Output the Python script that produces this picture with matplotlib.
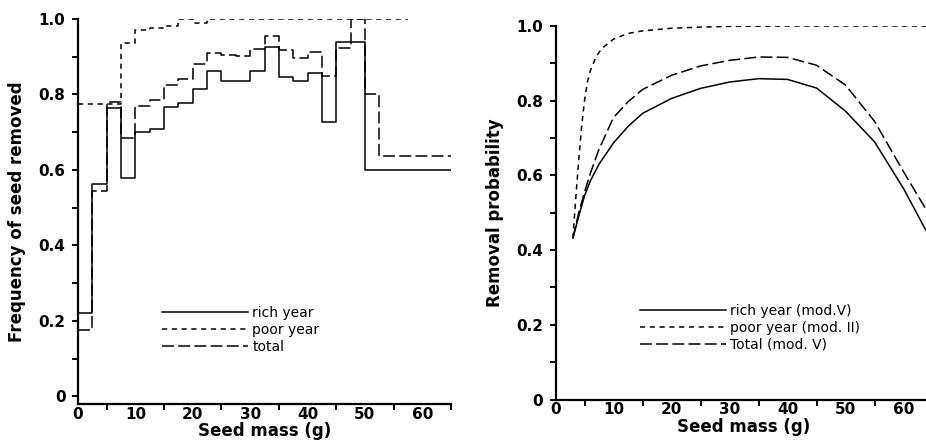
import numpy as np
import matplotlib
matplotlib.use("Agg")
import matplotlib.pyplot as plt
from matplotlib.ticker import FixedLocator, FuncFormatter

# left panel: observed removal frequency per 2.5 g mass class
rich_edges = [0, 2.5, 5, 7.5, 10, 12.5, 15, 17.5, 20, 22.5, 25, 27.5, 30,
              32.5, 35, 37.5, 40, 42.5, 45, 47.5, 50, 65]
rich_freq = [0.222, 0.562, 0.765, 0.578, 0.700, 0.709, 0.766, 0.777, 0.814,
             0.861, 0.836, 0.837, 0.863, 0.925, 0.846, 0.836, 0.858, 0.728,
             0.938, 0.938, 0.601]

poor_edges = [0, 7.5, 10, 12.5, 15, 17.5, 20, 22.5, 57.5]
poor_freq = [0.774, 0.936, 0.970, 0.977, 0.981, 1.0, 0.990, 1.0]

total_edges = [0, 2.5, 5, 7.5, 10, 12.5, 15, 17.5, 20, 22.5, 25, 27.5, 30,
               32.5, 35, 37.5, 40, 42.5, 45, 47.5, 50, 52.5, 65]
total_freq = [0.176, 0.545, 0.781, 0.686, 0.770, 0.786, 0.825, 0.841, 0.880,
              0.911, 0.905, 0.903, 0.920, 0.956, 0.918, 0.896, 0.913, 0.850,
              0.922, 1.0, 0.800, 0.636]

# right panel: fitted removal probability
mass = [3, 4, 5, 6, 7.5, 10, 12.5, 15, 20, 25, 30, 35, 40, 45, 50, 55, 60, 65]
rich_fit = [0.432, 0.49, 0.545, 0.585, 0.63, 0.687, 0.731, 0.766, 0.806,
            0.833, 0.850, 0.859, 0.857, 0.834, 0.772, 0.69, 0.565, 0.42]
total_fit = [0.432, 0.50, 0.555, 0.605, 0.67, 0.755, 0.797, 0.83, 0.868,
             0.893, 0.908, 0.917, 0.916, 0.895, 0.842, 0.745, 0.61, 0.48]
poor_mass = [3, 3.5, 4, 4.5, 5, 5.5, 6, 7, 8, 10, 12.5, 15, 20, 25, 30, 40,
             50, 60, 65]
poor_fit = [0.432, 0.54, 0.64, 0.73, 0.80, 0.85, 0.88, 0.918, 0.94, 0.965,
            0.98, 0.987, 0.994, 0.997, 0.999, 1.0, 1.0, 1.0, 1.0]

left_labels = ["rich year", "poor year", "total"]
right_labels = ["rich year (mod.V)", "poor year (mod. II)", "Total (mod. V)"]

short_dash = (3.4, 3.0)
long_dash = (7.8, 2.8)
lw = 1.1

plt.rcParams['font.family'] = 'DejaVu Sans'

fig = plt.figure(figsize=(9.26, 4.44), dpi=100)
ax1 = fig.add_axes([78/926, 40/444, 373/926, 385/444])
ax2 = fig.add_axes([555.5/926, 44.5/444, 377/926, 373.5/444])


def stair(ax, edges, vals, **kw):
    y = np.append(vals, vals[-1])
    return ax.step(edges, y, where='post', color='black', lw=lw, **kw)[0]


h1 = stair(ax1, rich_edges, rich_freq)
h2 = stair(ax1, poor_edges, poor_freq, dashes=short_dash)
h3 = stair(ax1, total_edges, total_freq, dashes=long_dash)

g1, = ax2.plot(mass, rich_fit, color='black', lw=lw)
g2, = ax2.plot(poor_mass, poor_fit, color='black', lw=lw, dashes=short_dash)
g3, = ax2.plot(mass, total_fit, color='black', lw=lw, dashes=long_dash)

ax1.set_ylim(-0.02, 1.0)
ax2.set_ylim(0, 1.0)


def yfmt(v, pos):
    return "0" if abs(v) < 1e-9 else "%.1f" % v


for ax in (ax1, ax2):
    ax.set_xlim(0, 65)
    for s in ['top', 'right']:
        ax.spines[s].set_visible(False)
    for s in ['left', 'bottom']:
        ax.spines[s].set_linewidth(1.6)
    ax.xaxis.set_major_locator(FixedLocator([0, 10, 20, 30, 40, 50, 60]))
    ax.xaxis.set_minor_locator(FixedLocator([0, 5, 15, 25, 35, 45, 55, 65]))
    ax.yaxis.set_major_locator(FixedLocator([0, 0.2, 0.4, 0.6, 0.8, 1.0]))
    ax.yaxis.set_minor_locator(FixedLocator([0.1, 0.3, 0.5, 0.7, 0.9]))
    ax.yaxis.set_major_formatter(FuncFormatter(yfmt))
    ax.tick_params(axis='x', which='major', length=0, pad=2,
                   labelsize=11)
    ax.tick_params(axis='x', which='minor', length=4, width=1.4,
                   direction='out')
    ax.tick_params(axis='y', which='both', length=4, width=1.4,
                   direction='out', pad=5, labelsize=11)
    for t in ax.get_xticklabels() + ax.get_yticklabels():
        t.set_fontweight('bold')
    ax.set_xlabel("Seed mass (g)", fontsize=12, fontweight='bold',
                  labelpad=0.5)

ax1.set_ylabel("Frequency of seed removed", fontsize=12, fontweight='bold')
ax1.yaxis.set_label_coords(-0.14, 0.5)
ax2.set_ylabel("Removal probability", fontsize=12, fontweight='bold')
ax2.yaxis.set_label_coords(-0.137, 0.5)

leg_kw = dict(loc='upper left', frameon=False, fontsize=10, borderpad=0,
              borderaxespad=0, handlelength=6.2, handletextpad=0.3,
              labelspacing=0.22)
ax1.legend([h1, h2, h3], left_labels, bbox_to_anchor=(0.225, 0.2545),
           **leg_kw)
ax2.legend([g1, g2, g3], right_labels, bbox_to_anchor=(0.224, 0.257),
           **leg_kw)

fig.savefig("out.png", dpi=100)
